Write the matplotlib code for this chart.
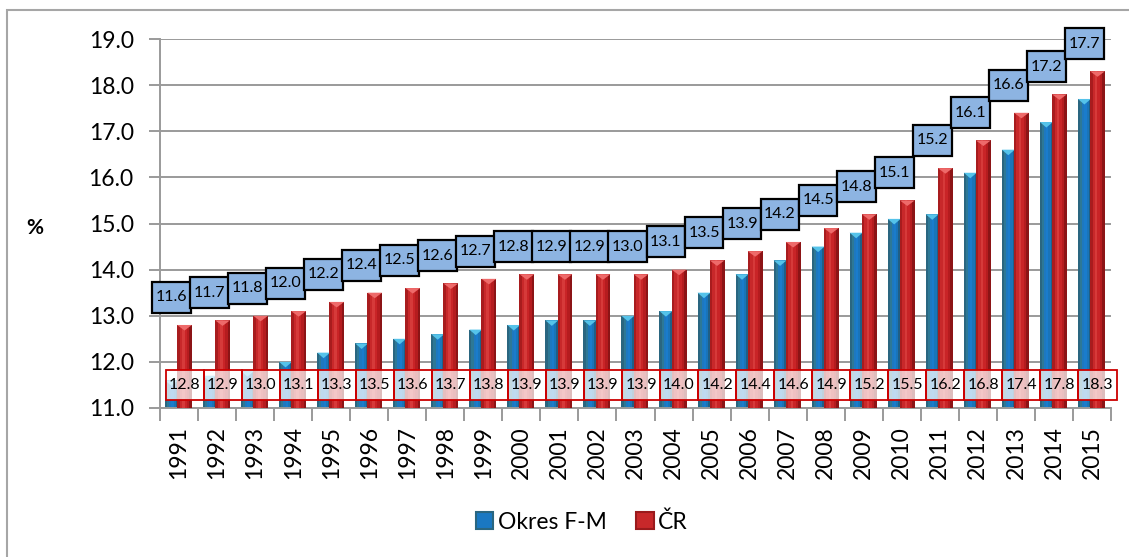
import matplotlib
matplotlib.use("Agg")
import matplotlib.pyplot as plt
from matplotlib.patches import Rectangle, Polygon, Patch
import numpy as np

years = [str(y) for y in range(1991, 2016)]
okres_fm = [11.6, 11.7, 11.8, 12.0, 12.2, 12.4, 12.5, 12.6, 12.7, 12.8, 12.9, 12.9, 13.0,
            13.1, 13.5, 13.9, 14.2, 14.5, 14.8, 15.1, 15.2, 16.1, 16.6, 17.2, 17.7]
cr = [12.8, 12.9, 13.0, 13.1, 13.3, 13.5, 13.6, 13.7, 13.8, 13.9, 13.9, 13.9, 13.9,
      14.0, 14.2, 14.4, 14.6, 14.9, 15.2, 15.5, 16.2, 16.8, 17.4, 17.8, 18.3]
series_names = ["Okres F-M", "ČR"]
y_ticks = [11.0, 12.0, 13.0, 14.0, 15.0, 16.0, 17.0, 18.0, 19.0]

plt.rcParams['font.family'] = ['Lato', 'DejaVu Sans']

W, H = 1129, 557
fig = plt.figure(figsize=(W / 100, H / 100), dpi=100)
ax = fig.add_axes([160 / W, 1 - 408 / H, (1111 - 160) / W, (408 - 39) / H])

ymin, ymax = 11.0, 19.0
ax.set_xlim(-0.5, len(years) - 0.5)
ax.set_ylim(ymin, ymax)

# outer border
fig.patches.append(Rectangle((7 / W, -0.05), 1.2, 1 - 10 / H + 0.05, transform=fig.transFigure,
                             fill=False, edgecolor='#a6a6a6', linewidth=1.5, zorder=0))

x = np.arange(len(years))
off_b, w_b = -0.20, 0.34
off_r, w_r = 0.145, 0.39


def gradient_bar(xc, w, top, cols, z):
    n = len(cols)
    sw = w / n
    for i, c in enumerate(cols):
        ax.add_patch(Rectangle((xc - w / 2 + i * sw, ymin), sw * 1.02, top - ymin,
                               facecolor=c, edgecolor='none', zorder=z))


blue_cols = ['#2a6680', '#2d7896', '#1e78bf', '#1a7ccc', '#1a74b8', '#1f5f86']
red_cols = ['#a81c1e', '#c8282a', '#d63a3a', '#c92427', '#b51c1f', '#8c1416']
tri_h = 0.12

for i in range(len(years)):
    xb = x[i] + off_b
    gradient_bar(xb, w_b, okres_fm[i], blue_cols, 2)
    ax.add_patch(Polygon([[xb - w_b / 2, okres_fm[i]], [xb + w_b / 2, okres_fm[i]],
                          [xb, okres_fm[i] - tri_h]], closed=True, facecolor='#55c3ea',
                         edgecolor='none', zorder=2.5))
    xr = x[i] + off_r
    gradient_bar(xr, w_r, cr[i], red_cols, 3)
    ax.add_patch(Polygon([[xr - w_r / 2, cr[i]], [xr + w_r / 2, cr[i]],
                          [xr, cr[i] - tri_h]], closed=True, facecolor='#ee6a6a',
                         edgecolor='none', zorder=3.5))

# gridlines
ax.set_yticks(y_ticks)
ax.set_yticklabels([f"{v:.1f}" for v in y_ticks], fontsize=16.5)
ax.yaxis.grid(True, color='#9a9a9a', linewidth=1.4, zorder=1)
ax.set_axisbelow(True)

# x ticks at category boundaries
ax.set_xticks(x)
ax.set_xticklabels(years, rotation=90, fontsize=16.5)
ax.tick_params(axis='x', length=0, pad=13)
ax.set_xticks(np.arange(-0.5, len(years)), minor=True)
ax.tick_params(axis='x', which='minor', length=9, width=1.4, color='#9a9a9a')
ax.tick_params(axis='y', length=8, width=1.4, color='#9a9a9a', pad=11)

for s in ['top', 'right']:
    ax.spines[s].set_visible(False)
for s in ['left', 'bottom']:
    ax.spines[s].set_color('#9a9a9a')
    ax.spines[s].set_linewidth(1.4)

# data labels
box_h_b = 31 / 369 * 8
box_h_r = 30 / 369 * 8
for i in range(len(years)):
    # red (ČR) labels at the bottom
    xr = x[i] + off_r
    yr = 11.49
    ax.add_patch(Rectangle((xr - 0.5, yr - box_h_r / 2), 1.0, box_h_r, facecolor='white',
                           alpha=0.72, edgecolor='none', zorder=6, clip_on=False))
    ax.add_patch(Rectangle((xr - 0.5, yr - box_h_r / 2), 1.0, box_h_r, facecolor='none',
                           edgecolor='#cc0000', linewidth=1.3, zorder=6.1, clip_on=False))
    ax.text(xr, yr, f"{cr[i]:.1f}", ha='center', va='center', fontsize=11.5,
            zorder=7, clip_on=False)

for i in range(len(years)):
    xb = x[i] + off_b
    yb = cr[i] + 0.6
    ax.add_patch(Rectangle((xb - 0.51, yb - box_h_b / 2), 1.02, box_h_b, facecolor='#8db4e2',
                           edgecolor='black', linewidth=1.6, zorder=8 + i * 0.01, clip_on=False))
    ax.text(xb, yb, f"{okres_fm[i]:.1f}", ha='center', va='center', fontsize=11.5,
            zorder=8 + i * 0.01 + 0.005, clip_on=False)

fig.text(35 / W, 1 - 228 / H, "%", fontsize=15, fontweight='bold', ha='center', va='center')

handles = [Patch(facecolor='#1a78c2', edgecolor='#2a6680', linewidth=1.5),
           Patch(facecolor='#c8282a', edgecolor='#9a1a1c', linewidth=1.5)]
fig.legend(handles, series_names, loc='center', bbox_to_anchor=(582 / W, 1 - 522 / H),
           ncol=2, frameon=False, fontsize=16.5, handlelength=0.75, handleheight=0.75,
           handletextpad=0.2, columnspacing=1.3)

fig.savefig("out.png", dpi=100)
